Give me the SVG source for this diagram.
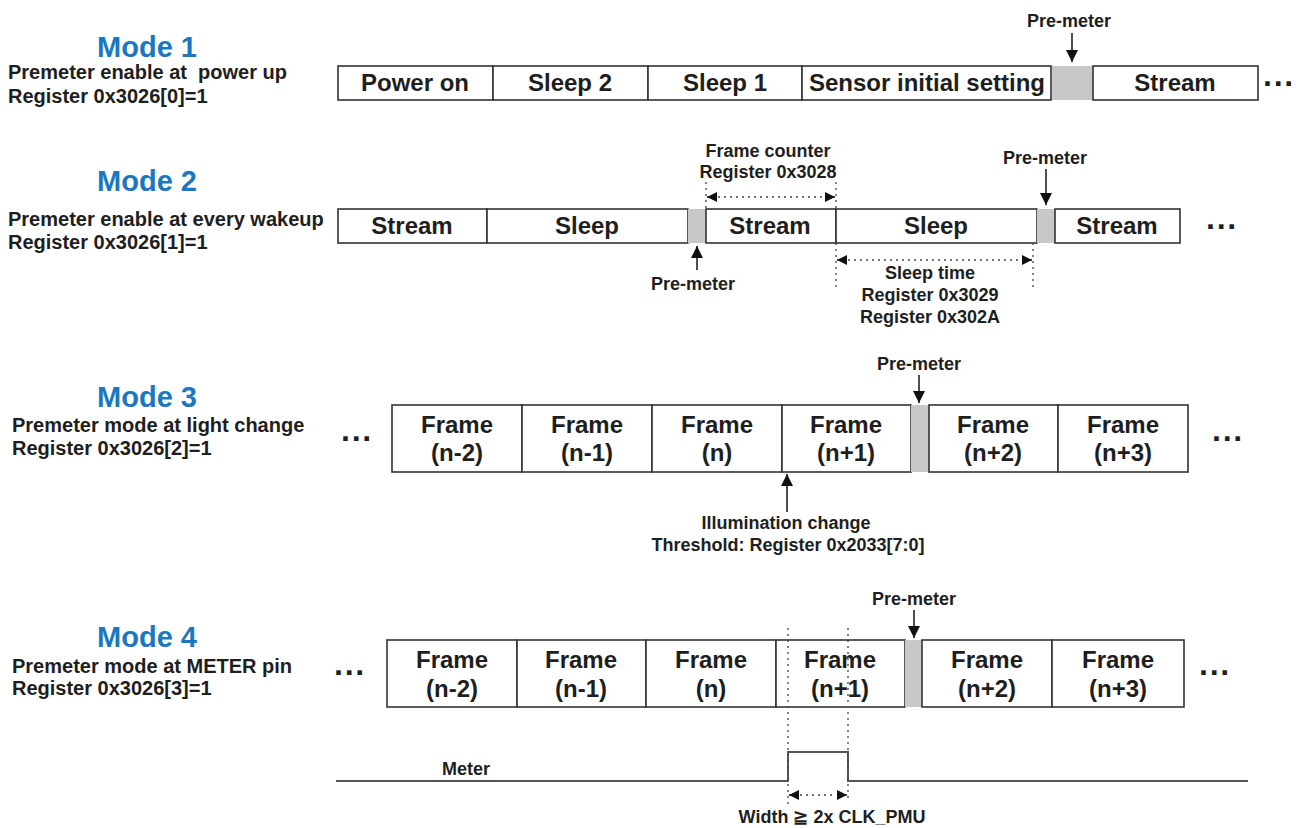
<svg xmlns="http://www.w3.org/2000/svg" width="1302" height="828" viewBox="0 0 1302 828">
<style>
text{font-family:"Liberation Sans",Arial,sans-serif;font-weight:bold;fill:#1e1e1e;white-space:pre}
.mode{font-size:29px;fill:#1a78c2;text-anchor:middle}
.sub{font-size:20px}
.bt{font-size:24px;text-anchor:middle}
.ft{font-size:24px;text-anchor:middle}
.lb{font-size:18px;text-anchor:middle}
.dots{font-size:32px;text-anchor:middle}
.box{fill:#fff;stroke:#333;stroke-width:1.6}
.gray{fill:#c8c8c8;stroke:none}
.ln{stroke:#222;stroke-width:1.6;fill:none}
.dot{stroke:#444;stroke-width:1.3;stroke-dasharray:2 4;fill:none}
.sig{stroke:#555;stroke-width:2;fill:none}
</style>
<defs>
<marker id="ah" viewBox="0 0 10 10" refX="10" refY="5" markerWidth="10" markerHeight="10" markerUnits="userSpaceOnUse" orient="auto"><path d="M0,0 L10,5 L0,10 z" fill="#111"/></marker>
<marker id="big" viewBox="0 0 10 10" refX="10" refY="5" markerWidth="17" markerHeight="12" markerUnits="userSpaceOnUse" orient="auto"><path d="M0,0 L10,5 L0,10 z" fill="#111"/></marker>
</defs>

<!-- Mode 1 -->
<g id="mode1">
<text class="mode" x="147" y="57">Mode 1</text>
<text class="sub" x="8" y="79">Premeter enable at  power up</text>
<text class="sub" x="8" y="103">Register 0x3026[0]=1</text>
</g>
<g id="m1-poweron"><rect class="box" x="338" y="66" width="155" height="34"/><text class="bt" x="415" y="91">Power on</text></g>
<g id="m1-sleep2"><rect class="box" x="493" y="66" width="155" height="34"/><text class="bt" x="570" y="91">Sleep 2</text></g>
<g id="m1-sleep1"><rect class="box" x="648" y="66" width="154" height="34"/><text class="bt" x="725" y="91">Sleep 1</text></g>
<g id="m1-sensor"><rect class="box" x="802" y="66" width="249" height="34"/><text class="bt" x="927" y="91">Sensor initial setting</text></g>
<g id="m1-pre"><rect class="gray" x="1052" y="66" width="41" height="34"/><text class="lb" x="1069" y="27">Pre-meter</text></g>
<g id="m1-stream"><rect class="box" x="1093" y="66" width="165" height="34"/><text class="bt" x="1175" y="91">Stream</text></g>
<text class="dots" x="1279" y="94">···</text>

<!-- Mode 2 -->
<g id="mode2">
<text class="mode" x="147" y="191">Mode 2</text>
<text class="sub" x="8" y="226">Premeter enable at every wakeup</text>
<text class="sub" x="8" y="249">Register 0x3026[1]=1</text>
</g>
<g id="m2-stream1"><rect class="box" x="338" y="209" width="149" height="34"/><text class="bt" x="412" y="234">Stream</text></g>
<g id="m2-sleep1"><rect class="box" x="487" y="209" width="201" height="34"/><text class="bt" x="587" y="234">Sleep</text></g>
<g id="m2-pre1"><rect class="gray" x="688" y="209" width="18" height="34"/><text class="lb" x="693" y="290">Pre-meter</text></g>
<g id="m2-stream2"><rect class="box" x="706" y="209" width="130" height="34"/><text class="bt" x="770" y="234">Stream</text></g>
<g id="m2-sleep2"><rect class="box" x="836" y="209" width="201" height="34"/><text class="bt" x="936" y="234">Sleep</text></g>
<g id="m2-pre2"><rect class="gray" x="1037" y="209" width="18" height="34"/><text class="lb" x="1045" y="164">Pre-meter</text></g>
<g id="m2-stream3"><rect class="box" x="1055" y="209" width="125" height="34"/><text class="bt" x="1117" y="234">Stream</text></g>
<text class="dots" x="1222" y="237">···</text>
<g id="m2-framecounter"><text class="lb" x="768" y="157">Frame counter</text><text class="lb" x="768" y="178">Register 0x3028</text></g>
<g id="m2-sleeptime"><text class="lb" x="930" y="279">Sleep time</text><text class="lb" x="930" y="301">Register 0x3029</text><text class="lb" x="930" y="323">Register 0x302A</text></g>

<!-- Mode 3 -->
<g id="mode3">
<text class="mode" x="147" y="407">Mode 3</text>
<text class="sub" x="12" y="432">Premeter mode at light change</text>
<text class="sub" x="12" y="455">Register 0x3026[2]=1</text>
</g>
<text class="dots" x="357" y="449">···</text>
<g id="m3-f1"><rect class="box" x="392" y="405" width="130" height="67"/><text class="ft" x="457" y="433">Frame</text><text class="ft" x="457" y="461">(n-2)</text></g>
<g id="m3-f2"><rect class="box" x="522" y="405" width="130" height="67"/><text class="ft" x="587" y="433">Frame</text><text class="ft" x="587" y="461">(n-1)</text></g>
<g id="m3-f3"><rect class="box" x="652" y="405" width="130" height="67"/><text class="ft" x="717" y="433">Frame</text><text class="ft" x="717" y="461">(n)</text></g>
<g id="m3-f4"><rect class="box" x="782" y="405" width="129" height="67"/><text class="ft" x="846" y="433">Frame</text><text class="ft" x="846" y="461">(n+1)</text></g>
<g id="m3-pre"><rect class="gray" x="911" y="405" width="18" height="67"/><text class="lb" x="919" y="370">Pre-meter</text></g>
<g id="m3-f5"><rect class="box" x="929" y="405" width="129" height="67"/><text class="ft" x="993" y="433">Frame</text><text class="ft" x="993" y="461">(n+2)</text></g>
<g id="m3-f6"><rect class="box" x="1058" y="405" width="130" height="67"/><text class="ft" x="1123" y="433">Frame</text><text class="ft" x="1123" y="461">(n+3)</text></g>
<text class="dots" x="1228" y="449">···</text>
<g id="m3-illum"><text class="lb" x="786" y="529">Illumination change</text><text class="lb" x="788" y="551">Threshold: Register 0x2033[7:0]</text></g>

<!-- Mode 4 -->
<g id="mode4">
<text class="mode" x="147" y="647">Mode 4</text>
<text class="sub" x="12" y="673">Premeter mode at METER pin</text>
<text class="sub" x="12" y="695">Register 0x3026[3]=1</text>
</g>
<text class="dots" x="350" y="683">···</text>
<g id="m4-f1"><rect class="box" x="387" y="640" width="130" height="67"/><text class="ft" x="452" y="668">Frame</text><text class="ft" x="452" y="697">(n-2)</text></g>
<g id="m4-f2"><rect class="box" x="517" y="640" width="129" height="67"/><text class="ft" x="581" y="668">Frame</text><text class="ft" x="581" y="697">(n-1)</text></g>
<g id="m4-f3"><rect class="box" x="646" y="640" width="130" height="67"/><text class="ft" x="711" y="668">Frame</text><text class="ft" x="711" y="697">(n)</text></g>
<g id="m4-f4"><rect class="box" x="776" y="640" width="129" height="67"/><text class="ft" x="840" y="668">Frame</text><text class="ft" x="840" y="697">(n+1)</text></g>
<g id="m4-pre"><rect class="gray" x="905" y="640" width="17" height="67"/><text class="lb" x="914" y="605">Pre-meter</text></g>
<g id="m4-f5"><rect class="box" x="922" y="640" width="130" height="67"/><text class="ft" x="987" y="668">Frame</text><text class="ft" x="987" y="697">(n+2)</text></g>
<g id="m4-f6"><rect class="box" x="1052" y="640" width="132" height="67"/><text class="ft" x="1118" y="668">Frame</text><text class="ft" x="1118" y="697">(n+3)</text></g>
<text class="dots" x="1215" y="683">···</text>
<g id="m4-meter"><path class="sig" d="M336,781 H788 V752 H848 V781 H1248"/><text class="lb" x="466" y="775">Meter</text></g>
<g id="m4-width"><text class="lb" x="832" y="823">Width ≧ 2x CLK_PMU</text></g>

<!-- connectors -->
<g id="connectors">
<line class="ln" x1="1072" y1="33" x2="1072" y2="62" marker-end="url(#big)"/>
<line class="ln" x1="1046" y1="169" x2="1046" y2="205" marker-end="url(#big)"/>
<line class="ln" x1="697" y1="270" x2="697" y2="246" marker-end="url(#big)"/>
<line class="ln" x1="919" y1="375" x2="919" y2="403" marker-end="url(#big)"/>
<line class="ln" x1="787" y1="512" x2="787" y2="474" marker-end="url(#big)"/>
<line class="ln" x1="914" y1="610" x2="914" y2="638" marker-end="url(#big)"/>
<!-- frame counter -->
<line class="dot" x1="706" y1="182" x2="706" y2="209"/>
<line class="dot" x1="836" y1="182" x2="836" y2="209"/>
<line class="dot" x1="718" y1="197" x2="824" y2="197"/>
<line class="ln" x1="712" y1="197" x2="707" y2="197" marker-end="url(#ah)"/>
<line class="ln" x1="830" y1="197" x2="835" y2="197" marker-end="url(#ah)"/>
<!-- sleep time -->
<line class="dot" x1="836" y1="243" x2="836" y2="287"/>
<line class="dot" x1="1033" y1="243" x2="1033" y2="287"/>
<line class="dot" x1="848" y1="260" x2="1021" y2="260"/>
<line class="ln" x1="842" y1="260" x2="837" y2="260" marker-end="url(#ah)"/>
<line class="ln" x1="1027" y1="260" x2="1032" y2="260" marker-end="url(#ah)"/>
<!-- width -->
<line class="dot" x1="788" y1="628" x2="788" y2="806"/>
<line class="dot" x1="848" y1="628" x2="848" y2="800"/>
<line class="dot" x1="800" y1="795" x2="836" y2="795"/>
<line class="ln" x1="794" y1="795" x2="789" y2="795" marker-end="url(#ah)"/>
<line class="ln" x1="842" y1="795" x2="847" y2="795" marker-end="url(#ah)"/>
</g>
</svg>
